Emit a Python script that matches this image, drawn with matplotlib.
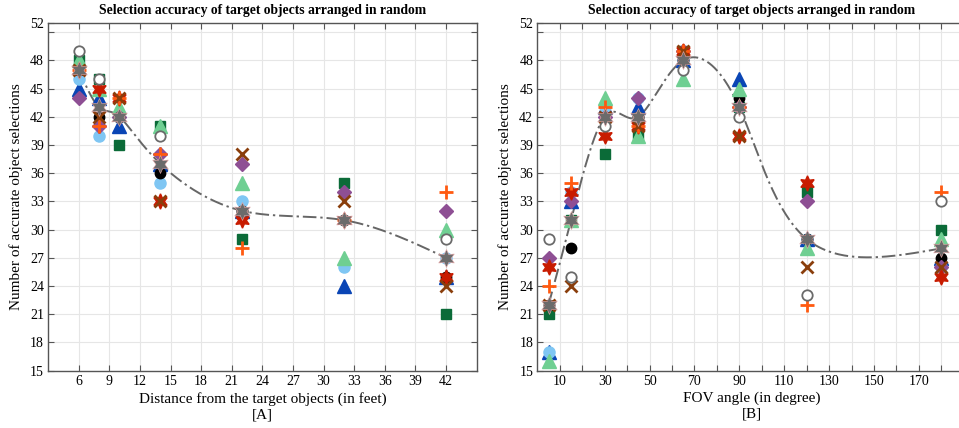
import numpy as np
import matplotlib
matplotlib.use("Agg")
import matplotlib.pyplot as plt

plt.rcParams['font.family'] = ['Liberation Serif', 'DejaVu Serif']

# ---------------- data ----------------
dist_x = [6, 8, 10, 14, 22, 32, 42]
fov_x = [5, 15, 30, 45, 65, 90, 120, 180]

# Panel A (distance)
a_open_circle = [49, 46, 42, 40, 32, 31, 29]
a_light_blue = [46, 40, 42, 35, 33, 26, 27]
a_black = [47, 42, 42, 36, 32, 31, 25]
a_blue_tri = [45, 44, 41, 37, 32, 24, 25]
a_green_tri = [48, 45, 43, 41, 35, 27, 30]
a_square = [48, 46, 39, 41, 29, 35, 21]
a_diamond = [44, 41, 42, 38, 37, 34, 32]
a_plus = [47, 41, 44, 38, 28, 31, 34]
a_cross = [47, 42, 44, 33, 38, 33, 24]
a_red_star = [47, 45, 44, 33, 31, 31, 25]
a_mean = [47, 43, 42, 37, 32, 31, 27]

# Panel B (FOV)
b_open_circle = [29, 25, 41, 42, 47, 42, 23, 33]
b_light_blue = [17, 34, 43, 44, 48, 43, 29, 26]
b_black = [22, 28, 42, 42, 48, 44, 29, 27]
b_blue_tri = [17, 33, 43, 43, 48, 46, 29, 27]
b_green_tri = [16, 31, 44, 40, 46, 45, 28, 29]
b_square = [21, 31, 38, 40, 49, 43, 34, 30]
b_diamond = [27, 33, 42, 44, 49, 43, 33, 26]
b_plus = [24, 35, 43, 41, 49, 43, 22, 34]
b_cross = [22, 24, 42, 41, 49, 40, 26, 26]
b_red_star = [26, 34, 40, 41, 49, 40, 35, 25]
b_mean = [22, 31, 42, 42, 48, 43, 29, 28]

y_ticks = [15, 18, 21, 24, 27, 30, 33, 36, 39, 42, 45, 48, 51, 52]
y_labels = ['15', '18', '21', '24', '27', '30', '33', '36', '39', '42', '45', '48', '', '52']
a_xticks = [6, 9, 12, 15, 18, 21, 24, 27, 30, 33, 36, 39, 42]
b_xticks = [10, 20, 30, 40, 50, 60, 70, 80, 90, 100, 110, 120, 130, 140, 150, 160, 170, 180]
b_xlabels = ['10', '', '30', '', '50', '', '70', '', '90', '', '110', '', '130', '', '150', '', '170', '']

title = 'Selection accuracy of target objects arranged in random'
ylabel = 'Number of accurate object selections'


def natural_spline(x, y, xs):
    x = np.asarray(x, float)
    y = np.asarray(y, float)
    n = len(x)
    h = np.diff(x)
    A = np.zeros((n, n))
    r = np.zeros(n)
    A[0, 0] = 1
    A[-1, -1] = 1
    for i in range(1, n - 1):
        A[i, i - 1] = h[i - 1]
        A[i, i] = 2 * (h[i - 1] + h[i])
        A[i, i + 1] = h[i]
        r[i] = 6 * ((y[i + 1] - y[i]) / h[i] - (y[i] - y[i - 1]) / h[i - 1])
    M = np.linalg.solve(A, r)
    out = np.empty(len(xs), dtype=float)
    for k, xv in enumerate(xs):
        i = min(max(np.searchsorted(x, xv) - 1, 0), n - 2)
        t1 = x[i + 1] - xv
        t0 = xv - x[i]
        out[k] = (M[i] * t1 ** 3 + M[i + 1] * t0 ** 3) / (6 * h[i]) \
            + (y[i] / h[i] - M[i] * h[i] / 6) * t1 \
            + (y[i + 1] / h[i] - M[i + 1] * h[i] / 6) * t0
    return out


def param_spline(x, y, num=500):
    t = np.arange(len(x), dtype=float)
    ts = np.linspace(0, len(x) - 1, num)
    return natural_spline(t, x, ts), natural_spline(t, y, ts)


hexstar = (6, 1, 0)
styles = [
    ('square', dict(marker='s', ms=7, color='#0b6b38', mec='#0b6b38', ls='none')),
    ('blue_tri', dict(marker='^', ms=9.5, color='#0a45b5', mec='#0a45b5', ls='none')),
    ('light_blue', dict(marker='o', ms=8, color='#7fc6f3', mec='#7fc6f3', ls='none')),
    ('black', dict(marker='o', ms=7.5, color='black', mec='black', ls='none')),
    ('green_tri', dict(marker='^', ms=10, color='#6fcf92', mec='#6fcf92', ls='none')),
    ('diamond', dict(marker='D', ms=7, color='#8e4f94', mec='#8e4f94', ls='none')),
    ('red_star', dict(marker=hexstar, ms=11, color='#c81b00', mec='#c81b00', ls='none')),
    ('plus', dict(marker='+', ms=10, mew=2, color='#ff5a10', ls='none')),
    ('cross', dict(marker='x', ms=8, mew=2, color='#8a3e0c', ls='none')),
    ('open_circle', dict(marker='o', ms=7.5, mfc='white', mec='#6a6a6a', mew=1.3, ls='none')),
    ('mean', dict(marker=hexstar, ms=13, color='#6b6b6b', mec='#e8a8a8', mew=0.4, ls='none')),
]

data_a = dict(square=a_square, blue_tri=a_blue_tri, light_blue=a_light_blue, black=a_black,
              green_tri=a_green_tri, diamond=a_diamond, red_star=a_red_star, plus=a_plus,
              cross=a_cross, open_circle=a_open_circle, mean=a_mean)
data_b = dict(square=b_square, blue_tri=b_blue_tri, light_blue=b_light_blue, black=b_black,
              green_tri=b_green_tri, diamond=b_diamond, red_star=b_red_star, plus=b_plus,
              cross=b_cross, open_circle=b_open_circle, mean=b_mean)

fig = plt.figure(figsize=(9.59, 4.28), dpi=100)
W = 0.447
axA = fig.add_axes([0.0501, 0.134, W, 0.813])
axB = fig.add_axes([0.5603, 0.134, W, 0.813])

for ax, xs, data, xlim, xt, xtl, xl in [
    (axA, dist_x, data_a, (3, 45), a_xticks, [str(v) for v in a_xticks],
     'Distance from the target objects (in feet)\n[A]'),
    (axB, fov_x, data_b, (0, 191), b_xticks, b_xlabels, 'FOV angle (in degree)\n[B]'),
]:
    cx, cy = param_spline(xs, data['mean'])
    ax.plot(cx, cy, color='#666666', lw=1.4, ls=(0, (7, 2, 1.2, 2)), zorder=2)
    for z, (key, kw) in enumerate(styles):
        ax.plot(xs, data[key], zorder=3 + z, clip_on=False, **kw)
    ax.set_xlim(*xlim)
    ax.set_ylim(15, 52)
    ax.set_xticks(xt)
    ax.set_xticklabels(xtl)
    ax.set_yticks(y_ticks)
    ax.set_yticklabels(y_labels)
    ax.grid(True, color='#e6e6e6', lw=0.8, zorder=0)
    ax.set_axisbelow(True)
    ax.tick_params(direction='in', top=True, right=True, length=4, width=0.8,
                   color='#555555', labelsize=10, pad=3)
    for s in ax.spines.values():
        s.set_color('#555555')
        s.set_linewidth(1.0)
    ax.set_title(title, fontsize=9.8, fontweight='bold', pad=6)
    ax.set_xlabel(xl, fontsize=11, linespacing=1.25, labelpad=3)
    ax.set_ylabel(ylabel, fontsize=11, labelpad=5)

fig.savefig('out.png', dpi=100)
